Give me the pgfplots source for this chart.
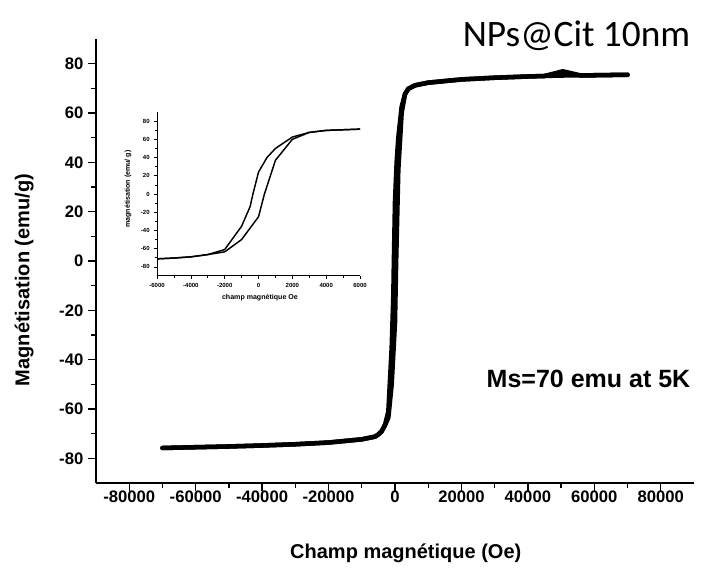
\documentclass[border=0pt]{standalone}
\usepackage{pgfplots}
\pgfplotsset{compat=1.18}
\usepackage{pgfplotstable}
\usepackage{fontspec}
\setmainfont{Liberation Sans}
\newfontfamily\titlefont{Carlito}

% upper branch (field decreasing)
\pgfplotstableread{
H M
70000 75.5
60000 75.3
56000 75.2
50500 76.9
45000 75.0
40000 74.8
30000 74.3
20000 73.6
10000 72.3
6000 71.2
5000 70.5
4000 69.8
3000 67.6
2000 62.5
1000 50
500 40
0 24
-330 0
-500 -14
-1000 -35.4
-2000 -61
-3000 -66.5
-4000 -69
-5000 -70.3
-6000 -71.2
-10000 -72.3
-20000 -73.6
-30000 -74.3
-40000 -74.8
-50000 -75.2
-60000 -75.5
-70000 -75.8
}\desc

% lower branch (field increasing)
\pgfplotstableread{
H M
-70000 -75.8
-60000 -75.5
-50000 -75.2
-40000 -74.8
-30000 -74.3
-20000 -73.6
-10000 -72.3
-6000 -71.2
-5000 -70.3
-4000 -69
-3000 -66.5
-2000 -63.5
-1000 -50
0 -25
350 0
1000 37
2000 60
3000 67.6
4000 69.8
5000 70.5
6000 71.2
10000 72.3
20000 73.6
30000 74.3
40000 74.8
50000 75.2
60000 75.3
70000 75.5
}\asc

\begin{document}
\begin{tikzpicture}
\useasboundingbox (0,0) rectangle (525.75pt,430.5pt);
\begin{axis}[
    at={(72pt,68.25pt)}, anchor=south west,
    scale only axis,
    width=448.5pt, height=333pt,
    xmin=-90000, xmax=90000,
    ymin=-90, ymax=90,
    axis x line*=bottom, axis y line*=left,
    axis line style={-, line width=1.1pt},
    tick align=outside,
    major tick length=6pt, minor tick length=3.75pt,
    every tick/.style={black, line width=1pt},
    xtick={-80000,-60000,...,80000},
    ytick={-80,-60,...,80},
    minor x tick num=1, minor y tick num=1,
    scaled x ticks=false,
    /pgf/number format/.cd, fixed, 1000 sep={}, assume math mode=true, /pgfplots/.cd,
    tick label style={font=\fontsize{12.5}{15}\selectfont\bfseries},
    xticklabel style={yshift=3.5pt},
    xlabel={Champ magnétique (Oe)},
    ylabel={Magnétisation (emu/g)},
    label style={font=\fontsize{15}{18}\selectfont\bfseries},
    xlabel style={at={(axis description cs:0.518,-0.158)}, anchor=center},
    ylabel style={at={(axis description cs:-0.12,0.457)}, anchor=center},
    clip=false,
]
\addplot[black, line width=3.4pt, line join=round, line cap=round] table[x=H, y=M] {\desc};
\addplot[black, line width=3.4pt, line join=round, line cap=round] table[x=H, y=M] {\asc};
\node[anchor=base east, font=\titlefont\fontsize{28}{32}\selectfont] at (axis description cs:1.0017,0.984) {NPs@Cit 10nm};
\node[anchor=base east, font=\fontsize{18.75}{22}\selectfont\bfseries] at (axis description cs:1.0017,0.216) {Ms=70 emu at 5K};
\end{axis}

\begin{axis}[
    at={(117.75pt,223.5pt)}, anchor=south west,
    scale only axis,
    width=152.25pt, height=123pt,
    xmin=-6000, xmax=6000,
    ymin=-90, ymax=90,
    axis x line*=bottom, axis y line*=left,
    axis line style={-, line width=0.75pt},
    tick align=outside,
    major tick length=2pt, minor tick length=1.2pt,
    every tick/.style={black, line width=0.5pt},
    xtick={-6000,-4000,...,6000},
    ytick={-80,-60,...,80},
    minor x tick num=1, minor y tick num=1,
    scaled x ticks=false,
    /pgf/number format/.cd, fixed, 1000 sep={}, assume math mode=true, /pgfplots/.cd,
    tick label style={font=\fontsize{4.5}{5}\selectfont\bfseries},
    xlabel={champ magnétique Oe},
    ylabel={magnétisation (emu/ g)},
    label style={font=\fontsize{5.3}{6}\selectfont\bfseries},
    xlabel style={at={(axis description cs:0.507,-0.134)}, anchor=center},
    ylabel style={at={(axis description cs:-0.143,0.53)}, anchor=center},
]
\addplot[black, line width=1.1pt, line join=round] table[x=H, y=M] {\desc};
\addplot[black, line width=1.1pt, line join=round] table[x=H, y=M] {\asc};
\end{axis}
\end{tikzpicture}
\end{document}
